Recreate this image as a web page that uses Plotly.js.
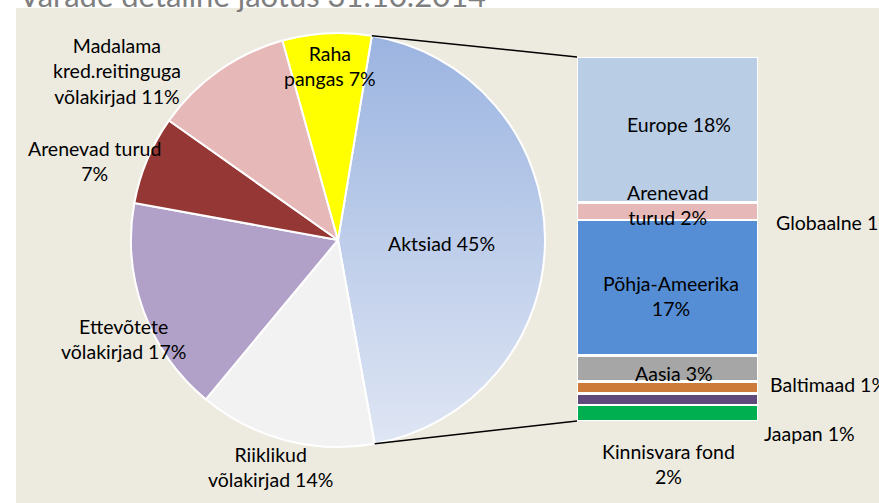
<!DOCTYPE html>
<html>
<head>
<meta charset="utf-8">
<script src="https://cdn.plot.ly/plotly-3.0.1.min.js"></script>
<style>html,body{margin:0;padding:0;background:#fff;}#chart{width:879px;height:503px;}</style>
</head>
<body>
<div id="chart"></div>
<script>
// ---- data ----
const titleText = "Varade detailne jaotus 31.10.2014";

const pieLabels = ["Aktsiad", "Riiklikud võlakirjad", "Ettevõtete võlakirjad", "Arenevad turud", "Madalama kred.reitinguga võlakirjad", "Raha pangas"];
const pieValues = [45, 14, 17, 7, 11, 7];
const pieColors = ["#BACBEA", "#F2F2F2", "#B1A0C7", "#953735", "#E6B9B8", "#FFFF00"];
const pieLabelTexts = ["Aktsiad 45%", "Riiklikud<br>võlakirjad 14%", "Ettevõtete<br>võlakirjad 17%", "Arenevad turud<br>7%", "Madalama<br>kred.reitinguga<br>võlakirjad 11%", "Raha<br>pangas 7%"];

// bar of pie (top to bottom)
const barLabels = ["Europe", "Arenevad turud", "Põhja-Ameerika", "Aasia", "Baltimaad", "Jaapan", "Kinnisvara fond"];
const barValues = [18.0, 2.2, 16.8, 3.2, 1.5, 1.4, 2.0];
const barColors = ["#B9CDE5", "#E6B9B8", "#558ED5", "#A6A6A6", "#CD7B3A", "#604A7B", "#00B050"];
const barLabelTexts = ["Europe 18%", "Arenevad<br>turud 2%", "Põhja-Ameerika<br>17%", "Aasia 3%", "Baltimaad 1%", "Jaapan 1%", "Kinnisvara fond<br>2%"];
const extraLabelText = "Globaalne 1%";

// ---- layout geometry (pixels) ----
const W = 879, H = 503;
const FONT = "Lato, 'Open Sans', sans-serif";
const FS = 19.5;
const pieCx = 338, pieCy = 240, pieR = 207;
const rotation = 9.4;
const barX0 = 577, barX1 = 758, barY0 = 57, barY1 = 421;

const px = x => x / W;
const py = y => 1 - y / H;

const pieTrace = {
  type: "pie",
  labels: pieLabels,
  values: pieValues,
  sort: false,
  direction: "clockwise",
  rotation: rotation,
  textinfo: "none",
  hoverinfo: "none",
  marker: {colors: pieColors, line: {color: "#FFFFFF", width: 2}},
  domain: {x: [px(pieCx - pieR), px(pieCx + pieR)], y: [py(pieCy + pieR), py(pieCy - pieR)]},
  showlegend: false
};

const barTraces = barLabels.map((lab, i) => ({
  type: "bar",
  x: ["Aktsiad"],
  y: [barValues[i]],
  name: lab,
  marker: {color: barColors[i], line: {color: "#FFFFFF", width: 2.5}},
  xaxis: "x", yaxis: "y",
  hoverinfo: "none",
  showlegend: false
})).reverse();

const barTotal = barValues.reduce((a, b) => a + b, 0);

// label positions (pixels) for the text annotations
const pieLabelPos = [[441, 243], [270, 467], [123, 339], [94, 161], [117, 71], [330, 66]];
const barLabelPos = [[679, 125, "center"], [668, 205, "center"], [671, 296, "center"], [674, 373, "center"], [768, 384, "left"], [762, 433, "left"], [668, 464, "center"]];
const extraLabelPos = [774, 222];

const annotations = [];
pieLabelTexts.forEach((t, i) => {
  annotations.push({text: t, x: px(pieLabelPos[i][0]), y: py(pieLabelPos[i][1]), xref: "paper", yref: "paper",
    xanchor: "center", yanchor: "middle", showarrow: false, align: "center",
    font: {family: FONT, size: FS, color: "#000000"}});
});
barLabelTexts.forEach((t, i) => {
  annotations.push({text: t, x: px(barLabelPos[i][0]), y: py(barLabelPos[i][1]), xref: "paper", yref: "paper",
    xanchor: barLabelPos[i][2], yanchor: "middle", showarrow: false, align: "center",
    font: {family: FONT, size: FS, color: "#000000"}});
});
annotations.push({text: extraLabelText, x: px(extraLabelPos[0]), y: py(extraLabelPos[1]), xref: "paper", yref: "paper",
  xanchor: "left", yanchor: "middle", showarrow: false, font: {family: FONT, size: FS, color: "#000000"}});
annotations.push({text: titleText, x: px(17), y: py(16), xref: "paper", yref: "paper",
  xanchor: "left", yanchor: "bottom", showarrow: false, font: {family: FONT, size: 31, color: "#7F7F7F"}});

// connector lines from Aktsiad slice edges to bar corners
const aStart = rotation * Math.PI / 180;
const aEnd = (rotation + 360 * pieValues[0] / pieValues.reduce((a, b) => a + b, 0)) * Math.PI / 180;
const pStart = [pieCx + pieR * Math.sin(aStart), pieCy - pieR * Math.cos(aStart)];
const pEnd = [pieCx + pieR * Math.sin(aEnd), pieCy - pieR * Math.cos(aEnd)];

const shapes = [
  {type: "rect", xref: "paper", yref: "paper", x0: px(16), x1: 1, y0: 0, y1: py(8), fillcolor: "#EDEBE0", line: {width: 0}, layer: "below"},
  {type: "line", xref: "paper", yref: "paper", x0: px(pStart[0]), y0: py(pStart[1]), x1: px(barX0), y1: py(barY0), line: {color: "#000000", width: 1.5}},
  {type: "line", xref: "paper", yref: "paper", x0: px(pEnd[0]), y0: py(pEnd[1]), x1: px(barX0), y1: py(barY1), line: {color: "#000000", width: 1.5}}
];

const layout = {
  width: W, height: H,
  margin: {l: 0, r: 0, t: 0, b: 0},
  paper_bgcolor: "#FFFFFF",
  plot_bgcolor: "rgba(0,0,0,0)",
  barmode: "stack",
  bargap: 0,
  xaxis: {domain: [px(barX0), px(barX1)], range: [-0.5, 0.5], visible: false, fixedrange: true},
  yaxis: {domain: [py(barY1), py(barY0)], range: [0, barTotal], visible: false, fixedrange: true},
  showlegend: false,
  shapes: shapes,
  annotations: annotations,
  font: {family: FONT}
};

Plotly.newPlot("chart", [pieTrace].concat(barTraces), layout, {staticPlot: true}).then(gd => {
  // vertical gradient on the Aktsiad slice, as in the original
  const svg = gd.querySelector("svg.main-svg");
  let defs = svg.querySelector("defs");
  const ns = "http://www.w3.org/2000/svg";
  const grad = document.createElementNS(ns, "linearGradient");
  grad.setAttribute("id", "aktGrad");
  grad.setAttribute("x1", "0"); grad.setAttribute("y1", "0");
  grad.setAttribute("x2", "0"); grad.setAttribute("y2", "1");
  [["0", "#9BB4E0"], ["1", "#DFE6F4"]].forEach(([o, c]) => {
    const s = document.createElementNS(ns, "stop");
    s.setAttribute("offset", o); s.setAttribute("stop-color", c);
    grad.appendChild(s);
  });
  defs.appendChild(grad);
  const slice = gd.querySelector("g.slice path.surface");
  if (slice) slice.style.fill = "url(#aktGrad)";
});
</script>
</body>
</html>
